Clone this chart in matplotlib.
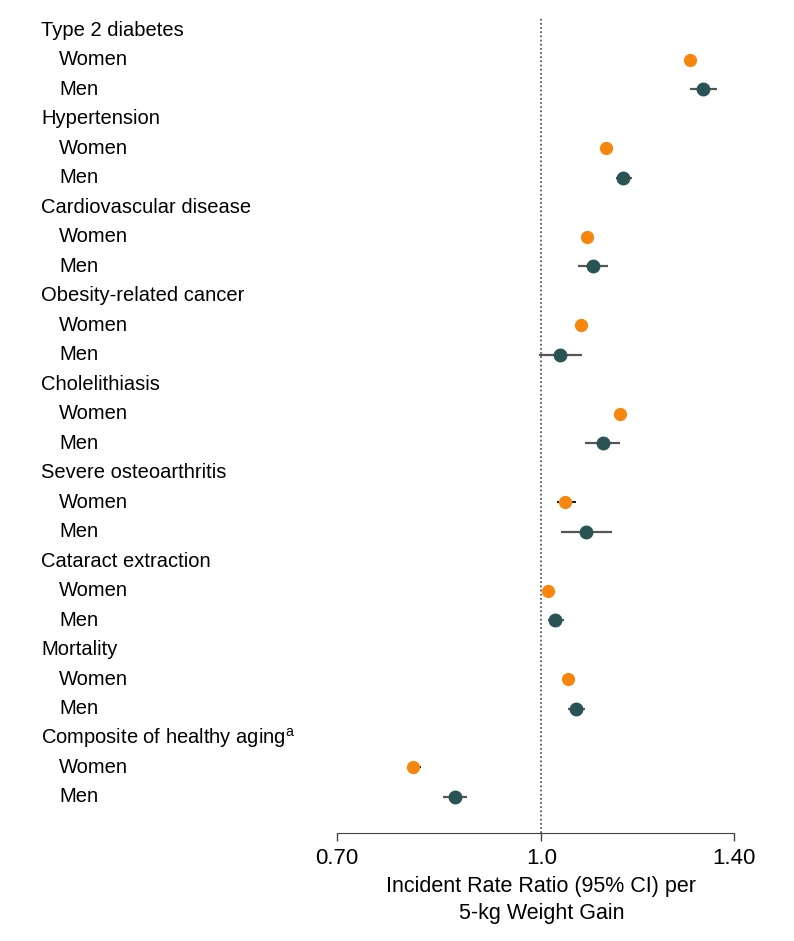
import numpy as np
import matplotlib.pyplot as plt
from matplotlib.transforms import blended_transform_factory
from matplotlib.ticker import FixedLocator, NullLocator

plt.rcParams['font.family'] = ['Liberation Sans Narrow', 'Liberation Sans', 'DejaVu Sans']
plt.rcParams['mathtext.fontset'] = 'custom'
plt.rcParams['mathtext.rm'] = 'Liberation Sans'

outcomes = ['Type 2 diabetes', 'Hypertension', 'Cardiovascular disease',
            'Obesity-related cancer', 'Cholelithiasis', 'Severe osteoarthritis',
            'Cataract extraction', 'Mortality', r'Composite of healthy aging$^\mathrm{a}$']

# incident rate ratio per 5-kg weight gain, with 95% CI
women_irr = [1.297, 1.120, 1.083, 1.071, 1.148, 1.043, 1.011, 1.048, 0.800]
women_lo = [1.292, 1.116, 1.078, 1.068, 1.142, 1.028, 1.007, 1.045, 0.792]
women_hi = [1.302, 1.124, 1.093, 1.074, 1.160, 1.063, 1.015, 1.051, 0.810]

men_irr = [1.326, 1.153, 1.094, 1.034, 1.113, 1.081, 1.024, 1.062, 0.860]
men_lo = [1.296, 1.139, 1.067, 0.996, 1.080, 1.035, 1.011, 1.047, 0.843]
men_hi = [1.359, 1.172, 1.123, 1.073, 1.148, 1.132, 1.040, 1.079, 0.878]

xticks = [0.70, 1.0, 1.40]
xticklabels = ['0.70', '1.0', '1.40']

orange = '#F7860F'
teal = '#2A5454'

fig = plt.figure(figsize=(7.94, 9.41), dpi=100)
ax = fig.add_axes([0.4244, 0.1148, 0.5, 0.866])

n = len(outcomes)
head_y = np.arange(n) * 3
women_y = head_y + 1
men_y = head_y + 2

women_err = [np.array(women_irr) - np.array(women_lo), np.array(women_hi) - np.array(women_irr)]
men_err = [np.array(men_irr) - np.array(men_lo), np.array(men_hi) - np.array(men_irr)]

ax.errorbar(women_irr, women_y, xerr=women_err, fmt='o', color=orange, ms=8.5,
            ecolor='#222222', elinewidth=1.5, capsize=0, zorder=3)
ax.errorbar(men_irr, men_y, xerr=men_err, fmt='o', color=teal, ms=9,
            ecolor='#555555', elinewidth=1.6, capsize=0, zorder=3)

ax.axvline(1.0, color='#444444', linestyle=(0, (1, 1.5)), linewidth=1.2, zorder=1)

ax.set_xscale('log')
ax.set_xlim(0.70, 1.40)
ax.set_ylim(3 * n - 1 + 1.22, -0.41)
ax.xaxis.set_major_locator(FixedLocator(xticks))
ax.xaxis.set_minor_locator(NullLocator())
ax.set_xticklabels(xticklabels, fontsize=16)
ax.yaxis.set_major_locator(NullLocator())
ax.tick_params(axis='x', length=6, width=1, color='#444444', pad=5)

for s in ['top', 'right', 'left']:
    ax.spines[s].set_visible(False)
ax.spines['bottom'].set_color('#444444')

trans = blended_transform_factory(fig.transFigure, ax.transData)
for name, y in zip(outcomes, head_y):
    ax.text(41 / 794, y, name, transform=trans, ha='left', va='center', fontsize=14.5)
for y in women_y:
    ax.text(59 / 794, y, 'Women', transform=trans, ha='left', va='center', fontsize=14.5)
for y in men_y:
    ax.text(59 / 794, y, 'Men', transform=trans, ha='left', va='center', fontsize=14.5)

lab_trans = blended_transform_factory(ax.transData, fig.transFigure)
ax.text(1.0, 1 - 900 / 941, 'Incident Rate Ratio (95% CI) per\n5-kg Weight Gain',
        transform=lab_trans, ha='center', va='center', fontsize=15.5, linespacing=1.4)

fig.savefig('out.png', dpi=100)
